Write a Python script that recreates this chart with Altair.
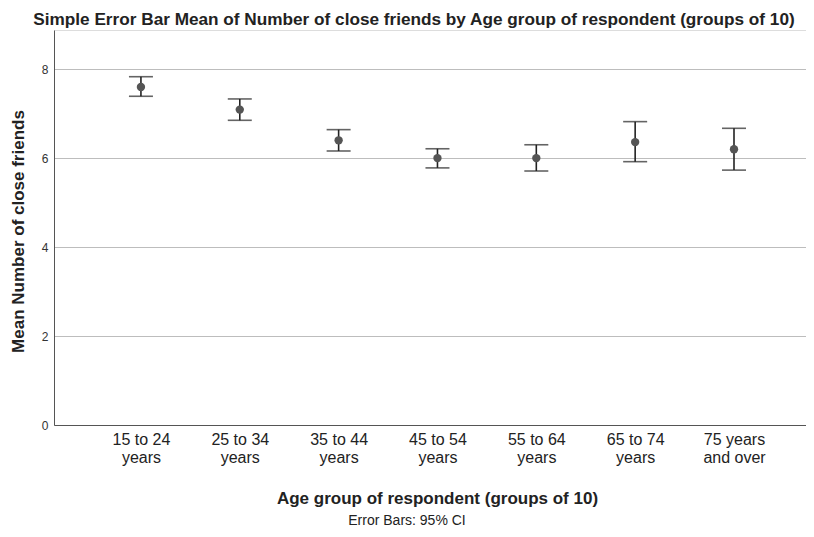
import altair as alt
import pandas as pd

categories = ["15 to 24|years", "25 to 34|years", "35 to 44|years", "45 to 54|years",
              "55 to 64|years", "65 to 74|years", "75 years|and over"]
means = [7.60, 7.09, 6.40, 6.00, 6.00, 6.36, 6.20]
lower = [7.39, 6.85, 6.16, 5.78, 5.71, 5.92, 5.73]
upper = [7.83, 7.33, 6.64, 6.21, 6.30, 6.82, 6.67]
y_ticks = [0, 2, 4, 6, 8]

title_text = "Simple Error Bar Mean of Number of close friends by Age group of respondent (groups of 10)"
x_title = "Age group of respondent (groups of 10)"
y_title = "Mean Number of close friends"
footer = "Error Bars: 95% CI"

df = pd.DataFrame({"age": categories, "mean": means, "lo": lower, "hi": upper})

FONT = "Liberation Sans"
W, H = 752, 395

x_enc = alt.X("age:N", sort=categories,
              scale=alt.Scale(type="point", padding=0.804, align=0.547),
              axis=alt.Axis(title=x_title, labelExpr="split(datum.label, '|')",
                            labelAngle=0, labelFontSize=16, labelColor="#222222",
                            labelFont=FONT, labelLineHeight=18, labelPadding=6,
                            ticks=False, domainColor="#555555", domainWidth=1,
                            titleFont=FONT, titleFontSize=17, titleFontWeight="bold",
                            titleColor="#222222", titleX=383, titleY=78,
                            titleBaseline="alphabetic", titleAlign="center",
                            grid=False))
y_scale = alt.Scale(domain=[0, 8.88], nice=False, zero=True)
y_axis = alt.Axis(title=y_title, values=y_ticks, grid=True, gridColor="#bdbdbd",
                  gridWidth=1, ticks=False, domainColor="#555555", domainWidth=1,
                  labelFont=FONT, labelFontSize=12, labelColor="#333333", labelPadding=6,
                  titleFont=FONT, titleFontSize=17, titleFontWeight="bold",
                  titleColor="#222222", titleX=-31, titleY=201, titleAngle=-90,
                  titleBaseline="alphabetic", titleAlign="center")

base = alt.Chart(df)

rules = base.mark_rule(color="#222222", strokeWidth=1.6).encode(
    x=x_enc,
    y=alt.Y("lo:Q", scale=y_scale, axis=y_axis),
    y2="hi:Q",
)
cap_hi = base.mark_tick(color="#222222", size=24, thickness=1.6).encode(
    x=alt.X("age:N", sort=categories), y=alt.Y("hi:Q"))
cap_lo = base.mark_tick(color="#222222", size=24, thickness=1.6).encode(
    x=alt.X("age:N", sort=categories), y=alt.Y("lo:Q"))
points = base.mark_point(filled=True, size=70, color="#555555", opacity=1).encode(
    x=alt.X("age:N", sort=categories), y=alt.Y("mean:Q"))

foot = alt.Chart(pd.DataFrame({"t": [footer]})).mark_text(
    font=FONT, fontSize=14, color="#222222", baseline="alphabetic", align="center"
).encode(text="t:N", x=alt.value(353), y=alt.value(495))

head = alt.Chart(pd.DataFrame({"t": [title_text]})).mark_text(
    font=FONT, fontSize=17.2, fontWeight="bold", color="#222222",
    baseline="alphabetic", align="center"
).encode(text="t:N", x=alt.value(360), y=alt.value(-5.5))

chart = alt.layer(rules, cap_hi, cap_lo, points, foot, head).properties(
    width=W, height=H,
    autosize=alt.AutoSizeParams(type="none"),
    padding={"left": 46, "top": 22, "right": 0, "bottom": 104},
).configure_view(stroke=None).configure(background="white")

chart.save("out.html", embed_options={"renderer": "svg", "actions": False})
